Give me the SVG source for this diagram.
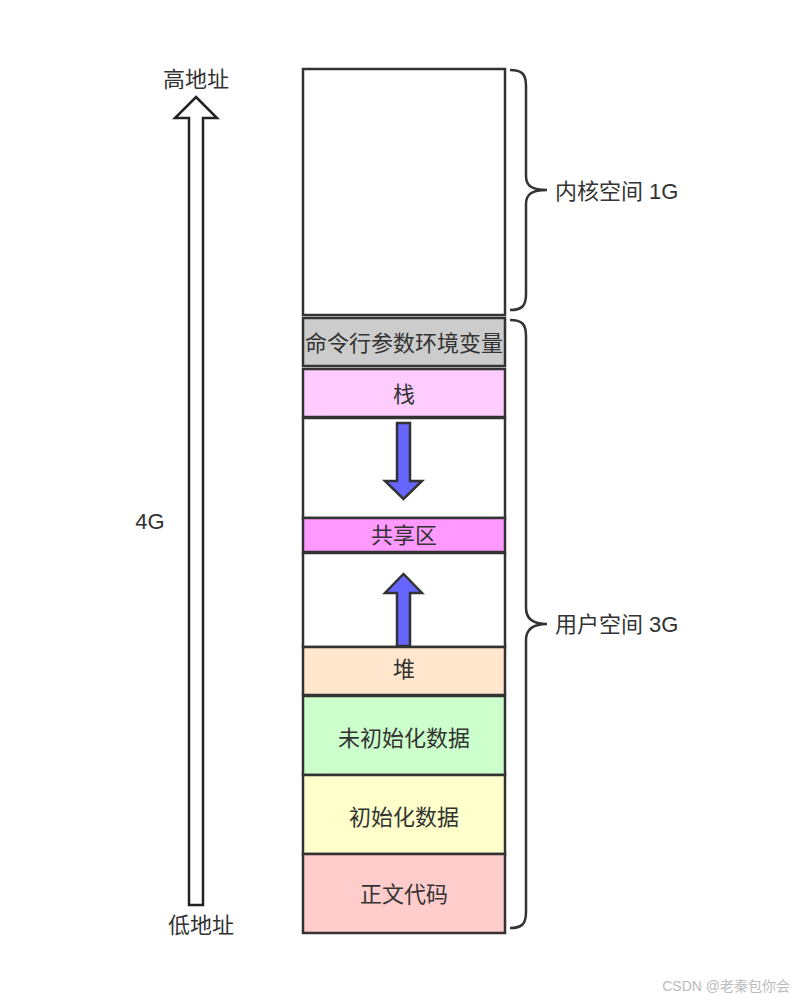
<svg xmlns="http://www.w3.org/2000/svg" width="795" height="1005" viewBox="0 0 795 1005">
<style>
.box{stroke:#333;stroke-width:2.5}
.lbl{font-family:"Liberation Sans","Noto Sans CJK SC",sans-serif;font-size:22px;fill:#333;text-anchor:middle;dominant-baseline:central}
.side{font-family:"Liberation Sans","Noto Sans CJK SC",sans-serif;font-size:22px;fill:#333;dominant-baseline:central}
.brace{fill:none;stroke:#333;stroke-width:2.5}
.blue{fill:#6666ff;stroke:#333;stroke-width:2.5;stroke-linejoin:miter}
</style>
<rect width="795" height="1005" fill="#fff"/>
<g id="addr-arrow">
<polygon points="196,97 217,118 203,118 203,905 189,905 189,118 175,118" fill="#fff" stroke="#222" stroke-width="2.5"/>
</g>
<g id="labels-left">
<text class="lbl" x="196" y="79">高地址</text>
<text class="lbl" x="150" y="521">4G</text>
<text class="lbl" x="201" y="925">低地址</text>
</g>
<g id="kernel"><rect class="box" x="303" y="69" width="202" height="246" fill="#fff"/></g>
<g id="args"><rect class="box" x="303" y="318" width="202" height="48" fill="#cccccc"/><text class="lbl" x="404" y="343">命令行参数环境变量</text></g>
<g id="stack"><rect class="box" x="303" y="369" width="202" height="48" fill="#ffccff"/><text class="lbl" x="404" y="394">栈</text></g>
<g id="gap1"><rect class="box" x="303" y="418" width="202" height="100" fill="#fff"/></g>
<g id="shared"><rect class="box" x="303" y="518" width="202" height="34" fill="#ff99ff"/><text class="lbl" x="404" y="535">共享区</text></g>
<g id="gap2"><rect class="box" x="303" y="553" width="202" height="94" fill="#fff"/></g>
<g id="heap"><rect class="box" x="303" y="647" width="202" height="48" fill="#ffe6cc"/><text class="lbl" x="404" y="669">堆</text></g>
<g id="bss"><rect class="box" x="303" y="696" width="202" height="79" fill="#ccffcc"/><text class="lbl" x="404" y="738">未初始化数据</text></g>
<g id="data"><rect class="box" x="303" y="775" width="202" height="79" fill="#ffffcc"/><text class="lbl" x="404" y="817">初始化数据</text></g>
<g id="text"><rect class="box" x="303" y="854" width="202" height="79" fill="#ffcccc"/><text class="lbl" x="404" y="894">正文代码</text></g>
<g id="connectors">
<polygon class="blue" points="397,423 410,423 410,481 422,481 403.5,499 385,481 397,481"/>
<polygon class="blue" points="397,646 410,646 410,593 422,593 403.5,574 385,593 397,593"/>
<path class="brace" d="M510,70 C522,70 526,74 526,86 L526,176 C526,186 532,190 547,190 C532,190 526,194 526,204 L526,294 C526,306 522,310 510,310"/>
<path class="brace" d="M510,320 C522,320 526,324 526,336 L526,608 C526,618 532,624 547,624 C532,624 526,630 526,640 L526,912 C526,924 522,928 510,928"/>
</g>
<g id="labels-right">
<text class="side" x="555" y="191">内核空间 1G</text>
<text class="side" x="555" y="624">用户空间 3G</text>
</g>
<text x="790" y="991" text-anchor="end" font-family="Liberation Sans,Noto Sans CJK SC,sans-serif" font-size="14" fill="#bbb">CSDN @老秦包你会</text>
</svg>
